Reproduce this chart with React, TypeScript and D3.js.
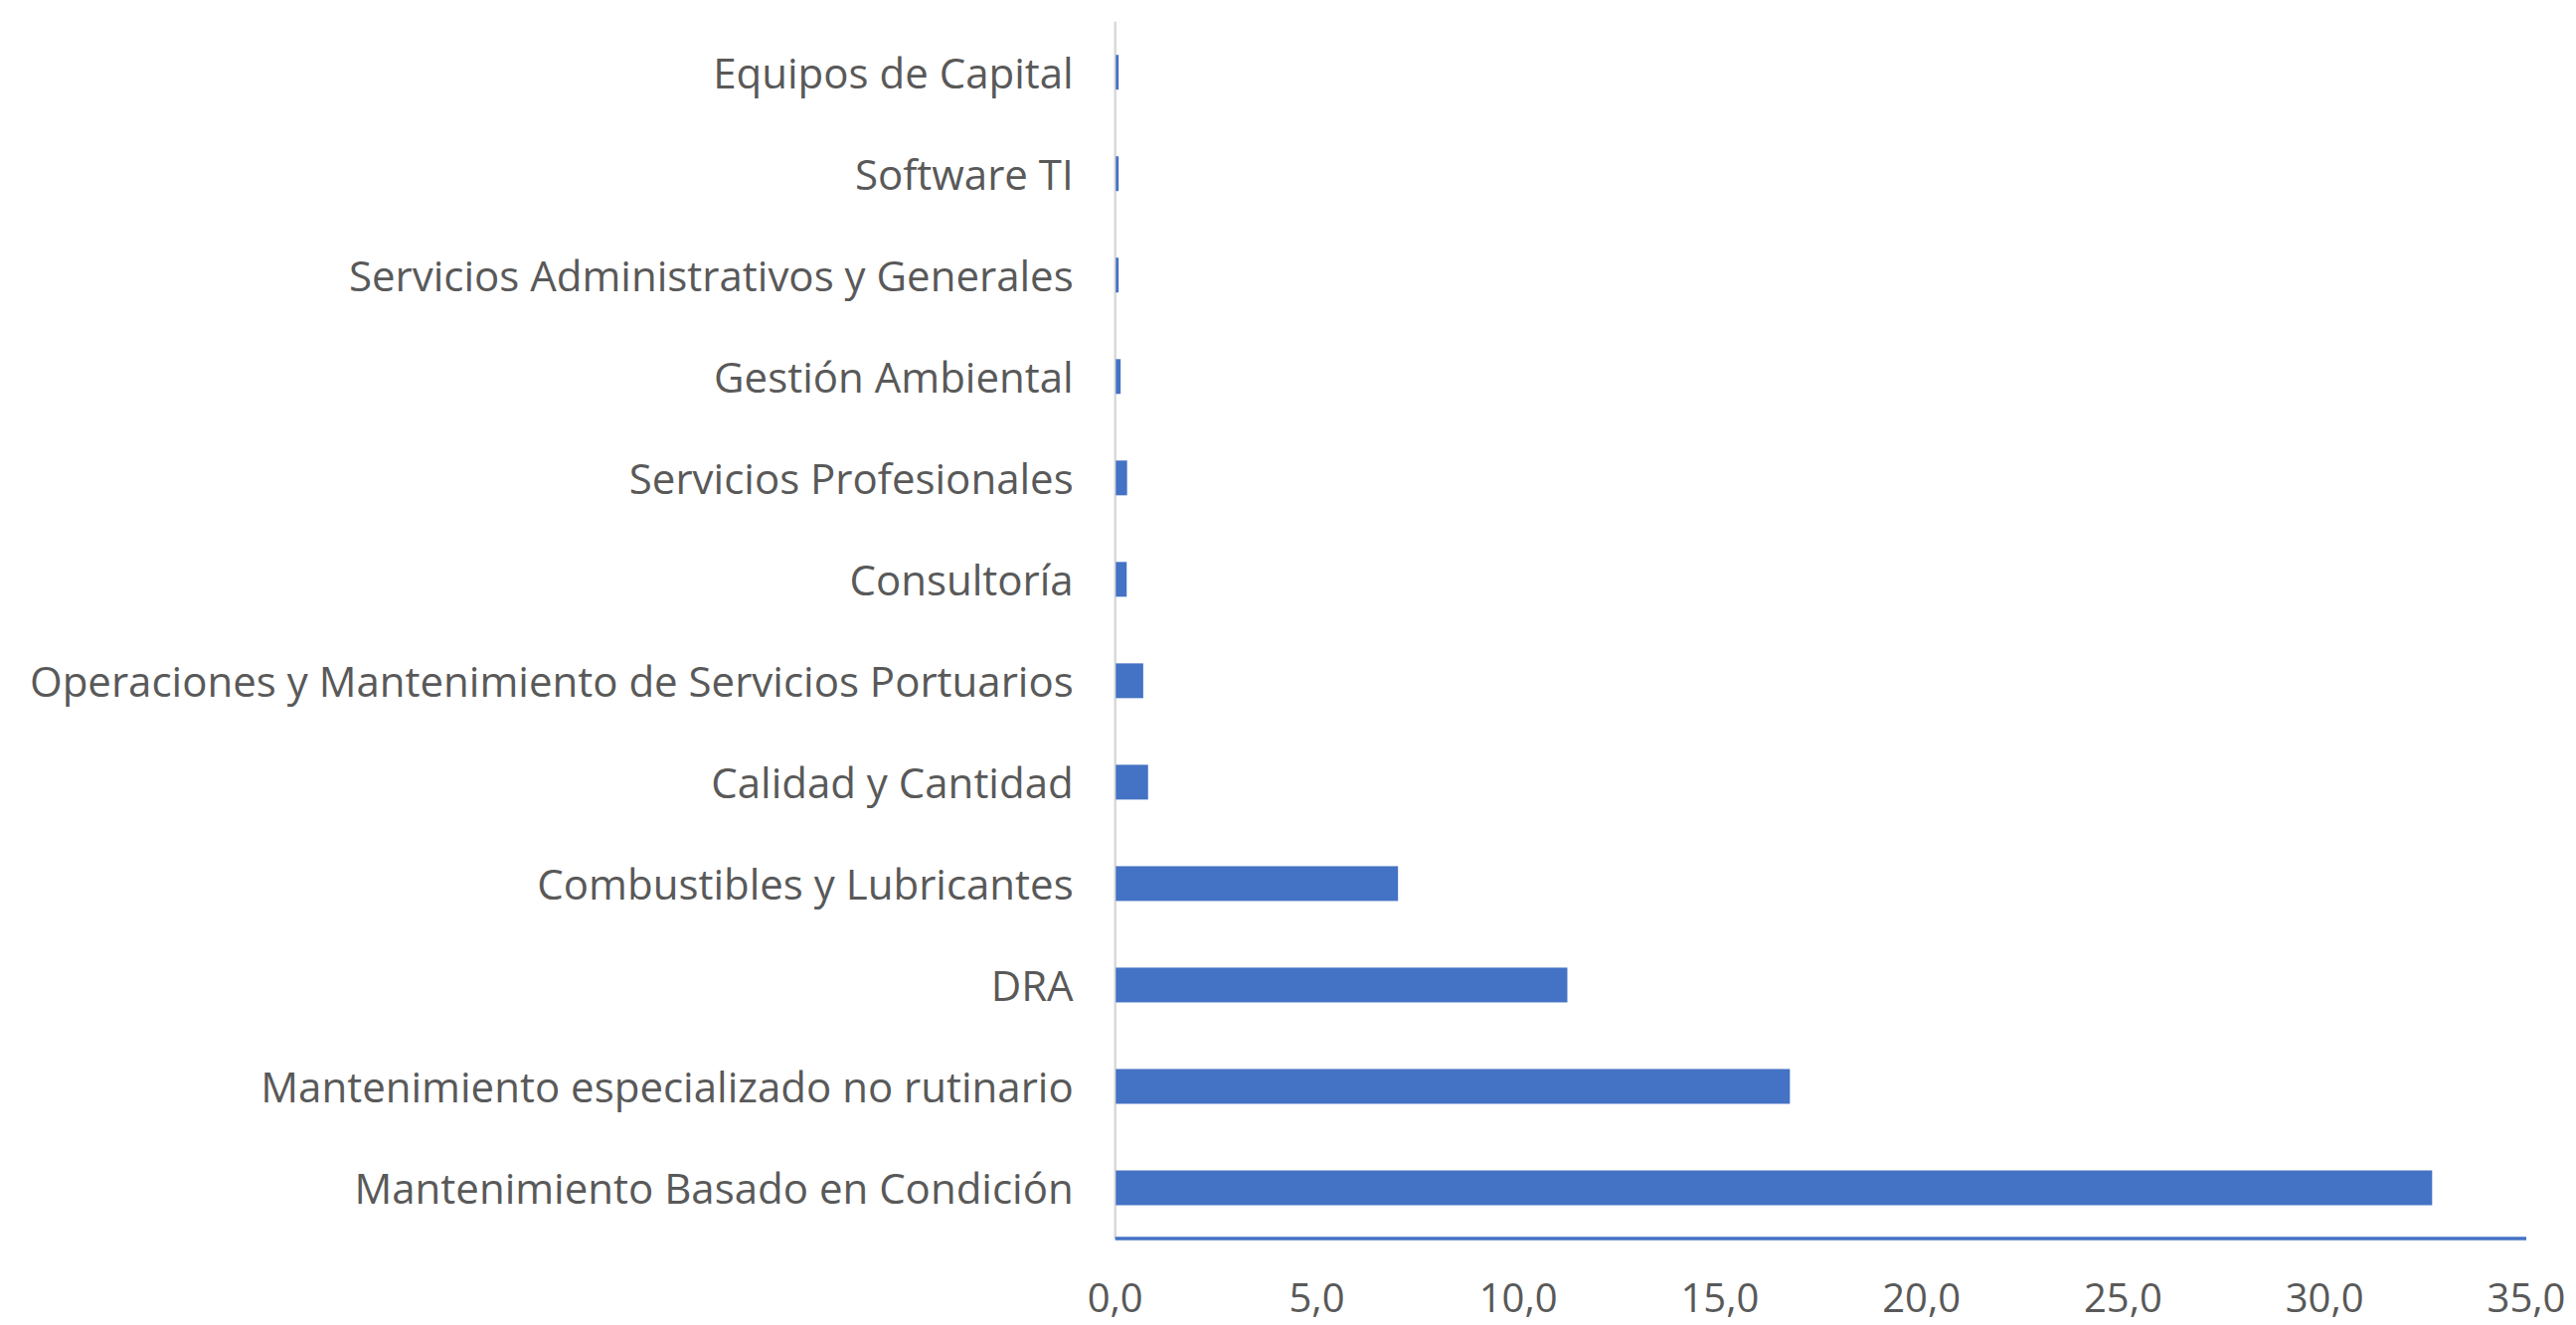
import React from "react";
import * as d3 from "d3";

const categories: string[] = [
  "Equipos de Capital",
  "Software TI",
  "Servicios Administrativos y Generales",
  "Gestión Ambiental",
  "Servicios Profesionales",
  "Consultoría",
  "Operaciones y Mantenimiento de Servicios Portuarios",
  "Calidad y Cantidad",
  "Combustibles y Lubricantes",
  "DRA",
  "Mantenimiento especializado no rutinario",
  "Mantenimiento Basado en Condición",
];

const values: number[] = [0.07, 0.07, 0.07, 0.12, 0.28, 0.27, 0.68, 0.8, 7.0, 11.2, 16.72, 32.65];

const xTicks: number[] = [0, 5, 10, 15, 20, 25, 30, 35];

const W = 2591;
const H = 1333;
const M = { left: 1121.7, right: W - 2541, top: 21.7, bottom: H - 1246 };

const BAR = "#4472C4";
const TEXT = "#595959";
const FONT = "'Open Sans', 'Noto Sans', sans-serif";

export default function App() {
  const x = d3.scaleLinear().domain([0, 35]).range([M.left, W - M.right]);
  const pad = 0.657;
  const y = d3
    .scaleBand<string>()
    .domain(categories)
    .range([M.top, H - M.bottom])
    .paddingInner(pad)
    .paddingOuter(pad / 2);
  const fmt = (v: number) => d3.format(".1f")(v).replace(".", ",");

  return (
    <svg
      width={W}
      height={H}
      style={{ position: "absolute", left: 0, top: 0, display: "block", background: "#fff" }}
      fontFamily={FONT}
    >
      <rect x={0} y={0} width={W} height={H} fill="#fff" />
      {/* vertical category axis */}
      <line x1={x(0)} x2={x(0)} y1={M.top} y2={H - M.bottom} stroke="#d9d9d9" strokeWidth={2.5} />
      {categories.map((c, i) => (
        <g key={c}>
          <rect
            x={x(0) + 0.6}
            y={y(c)!}
            width={Math.max(0, x(values[i]) - x(0))}
            height={y.bandwidth()}
            fill={BAR}
          />
          <text
            x={x(0) - 42}
            y={y(c)! + y.bandwidth() / 2}
            textAnchor="end"
            dominantBaseline="central"
            fontSize={42}
            fill={TEXT}
          >
            {c}
          </text>
        </g>
      ))}
      {/* horizontal value axis */}
      <line x1={x(0)} x2={x(35)} y1={H - M.bottom} y2={H - M.bottom} stroke={BAR} strokeWidth={3.5} />
      {xTicks.map((t) => (
        <text key={t} x={x(t)} y={1320} textAnchor="middle" fontSize={40} fill={TEXT}>
          {fmt(t)}
        </text>
      ))}
    </svg>
  );
}
